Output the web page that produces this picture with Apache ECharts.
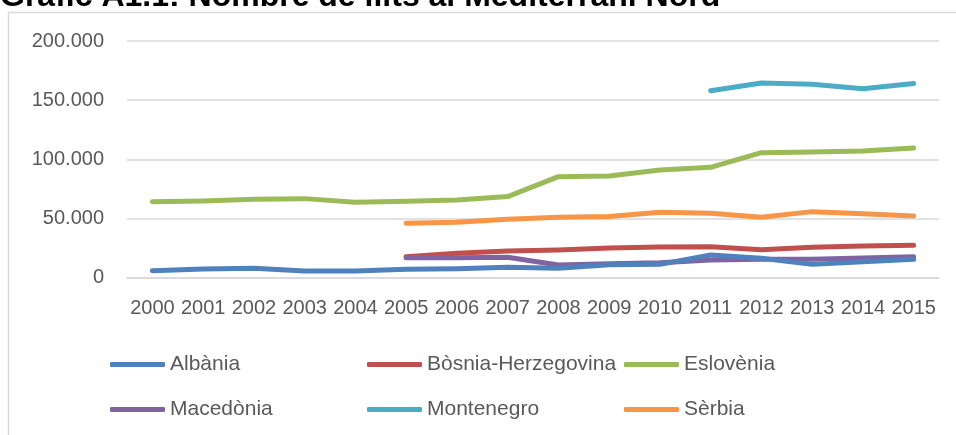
<!DOCTYPE html>
<html>
<head>
<meta charset="utf-8">
<title>Nombre de llits al Mediterrani Nord</title>
<script src="https://cdn.jsdelivr.net/npm/echarts@6/dist/echarts.min.js"></script>
<style>
  html, body { margin: 0; padding: 0; background: #fff; }
  #chart { width: 956px; height: 435px; }
</style>
</head>
<body>
<div id="chart"></div>
<script>
// dades llegides del gràfic
var years = ['2000', '2001', '2002', '2003', '2004', '2005', '2006', '2007',
  '2008', '2009', '2010', '2011', '2012', '2013', '2014', '2015']
var albania = [5800, 7200, 7800, 5500, 5500, 6900, 7500, 8600, 7800, 10800, 11100, 19000, 16200, 11100, 13400, 15400]
var bosnia = [null, null, null, null, null, 17600, 20500, 22400, 23300, 25000, 25800, 26100, 23500, 25500, 26600, 27200]
var eslovenia = [64100, 64700, 66100, 66700, 63600, 64500, 65600, 68400, 85300, 85900, 91000, 93200, 105600, 106200, 107000, 109600]
var macedonia = [null, null, null, null, null, 16800, 16800, 17100, 10600, 11700, 12500, 14800, 15400, 15400, 16500, 17600]
var montenegro = [null, null, null, null, null, null, null, null, null, null, null, 158000, 164500, 163400, 159700, 164000]
var serbia = [null, null, null, null, null, 45900, 46700, 49200, 50900, 51500, 55200, 54300, 50900, 55700, 54000, 52000]

var seriesNames = ['Albània', 'Bòsnia-Herzegovina', 'Eslovènia', 'Macedònia', 'Montenegro', 'Sèrbia']
var seriesData = [albania, bosnia, eslovenia, macedonia, montenegro, serbia]
var colors = ['#4F81BD', '#C0504D', '#9BBB59', '#8064A2', '#4BACC6', '#F79646']

var font = 'Liberation Sans'

function makeSeries () {
  var arr = []
  seriesNames.forEach(function (name, i) {
    arr.push({
      name: name,
      type: 'line',
      data: seriesData[i],
      symbol: 'none',
      z: i === 0 ? 3 : 2,
      lineStyle: { width: 5, color: colors[i], cap: 'round', join: 'round' },
      itemStyle: { color: colors[i] }
    })
  })
  return arr
}

var mychart = echarts.init(document.getElementById('chart'), null, { renderer: 'canvas' })
mychart.setOption({
  animation: false,
  backgroundColor: '#fff',
  color: colors,
  graphic: [
    {
      type: 'rect',
      shape: { x: 8.5, y: 12.5, width: 1000, height: 500 },
      style: { fill: 'none', stroke: '#d9d9d9', lineWidth: 1.5 },
      z: -1
    },
    {
      type: 'text',
      x: 0,
      y: -3,
      style: {
        text: 'Gràfic A1.1: Nombre de llits al Mediterrani Nord',
        font: 'bold 32px "Liberation Sans"',
        fill: '#000',
        textVerticalAlign: 'middle'
      }
    }
  ],
  grid: {
    left: 127,
    right: 17,
    top: 41,
    bottom: 157.5
  },
  legend: {
    data: seriesNames,
    left: 105,
    top: 337,
    width: 790,
    orient: 'horizontal',
    itemWidth: 55,
    itemHeight: 5,
    itemGap: 0,
    icon: 'roundRect',
    textStyle: {
      fontFamily: font,
      fontSize: 21,
      color: '#595959',
      width: 197,
      lineHeight: 45
    }
  },
  xAxis: {
    type: 'category',
    data: years,
    boundaryGap: true,
    axisLine: { show: true, lineStyle: { color: '#d9d9d9', width: 1.5 } },
    axisTick: { show: false },
    axisLabel: { interval: 0, margin: 21, fontFamily: font, fontSize: 20, color: '#595959' }
  },
  yAxis: {
    type: 'value',
    min: 0,
    max: 200000,
    interval: 50000,
    axisLine: { show: false },
    axisTick: { show: false },
    splitLine: { lineStyle: { color: '#d9d9d9', width: 1.5 } },
    axisLabel: {
      margin: 23,
      fontFamily: font,
      fontSize: 20,
      color: '#595959',
      formatter: function (v) {
        return String(v).replace(/\B(?=(\d{3})+(?!\d))/g, '.')
      }
    }
  },
  series: makeSeries()
})
</script>
</body>
</html>
